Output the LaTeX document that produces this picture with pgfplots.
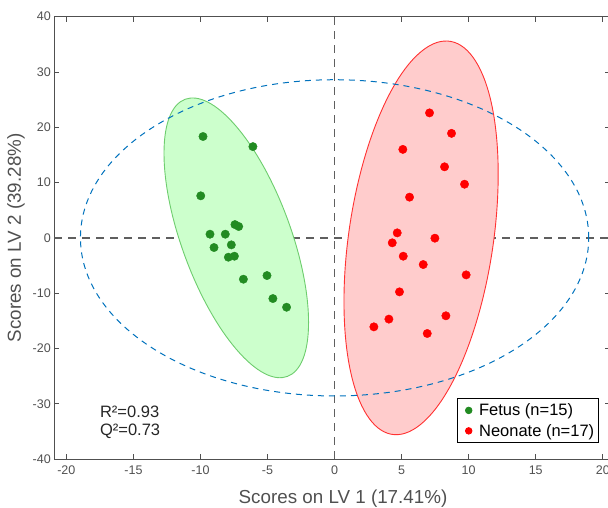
\documentclass[border=0pt]{standalone}
\usepackage{pgfplots}
\pgfplotsset{compat=1.18}
\usepackage{pgfplotstable}
\usepackage{fontspec}
\setmainfont{Liberation Sans}

\definecolor{fetus}{RGB}{34,139,34}
\definecolor{fetusfill}{RGB}{204,255,204}
\definecolor{fetusedge}{RGB}{110,205,110}
\definecolor{neofill}{RGB}{255,204,204}
\definecolor{neoedge}{RGB}{255,50,50}
\definecolor{t2blue}{RGB}{0,114,189}
\definecolor{zeroline}{RGB}{95,95,95}
\definecolor{axgray}{RGB}{80,80,80}

% LV1 / LV2 scores
\pgfplotstableread{
x y
-9.81 18.33
-6.09 16.50
-9.98 7.60
-7.43 2.40
-7.15 2.05
-9.29 0.66
-8.15 0.66
-8.99 -1.75
-7.70 -1.27
-7.92 -3.50
-7.47 -3.32
-6.80 -7.48
-5.04 -6.82
-4.60 -10.98
-3.58 -12.55
}\fetusdata

\pgfplotstableread{
x y
7.08 22.60
8.72 18.90
5.09 16.00
8.20 12.85
9.69 9.70
5.59 7.36
4.67 0.90
7.48 -0.06
4.30 -0.90
5.12 -3.32
6.61 -4.83
9.81 -6.70
4.84 -9.77
4.05 -14.70
8.30 -14.10
2.93 -16.10
6.91 -17.30
}\neodata

\begin{document}
\begin{tikzpicture}
\begin{axis}[
    scale only axis,
    width=555.2pt, height=442.3pt,
    xmin=-20.9, xmax=20.5,
    ymin=-40, ymax=40,
    xtick={-20,-15,...,20},
    ytick={-40,-30,...,40},
    tick align=inside,
    major tick length=5pt,
    axis line style={axgray, line width=0.9pt},
    every tick/.style={axgray, line width=0.9pt},
    ticklabel style={font=\fontsize{12.5}{14}\selectfont, text=axgray},
    xticklabel shift=3.5pt,
    yticklabel shift=0pt,
    /pgf/number format/assume math mode=true,
    xlabel={Scores on LV 1 (17.41\%)},
    ylabel={Scores on LV 2 (39.28\%)},
    label style={font=\fontsize{18.8}{21}\selectfont, text=axgray},
    x label style={at={(axis description cs:0.52,0)}, anchor=center, yshift=-40pt},
    y label style={at={(axis description cs:-0.069,0.5)}, anchor=center},
    legend style={at={(axis cs:19.69,-29.02)}, anchor=north east,
        draw=black, line width=0.8pt, fill=white,
        font=\fontsize{16.5}{19}\selectfont, inner xsep=1pt, inner ysep=2pt,
        row sep=1pt, nodes={inner sep=3pt}},
    legend image code/.code={
        \path (0pt,0pt) (17pt,0pt);
        \draw[#1, mark size=3.3pt] plot coordinates {(10pt,0pt)};
    },
    legend cell align=left,
]
% zero lines
\draw[zeroline, dash pattern=on 8pt off 6pt, line width=1.4pt] (axis cs:0,-40) -- (axis cs:0,40);
\draw[zeroline, dash pattern=on 8pt off 6pt, line width=1.4pt] (axis cs:-20.9,0) -- (axis cs:20.5,0);

% confidence ellipses (centre + two conjugate semi-axes)
\pgfplotsextra{
    \pgfsetfillcolor{fetusfill}\pgfsetstrokecolor{fetusedge}\pgfsetlinewidth{0.9pt}
    \pgfpathellipse{\pgfplotspointaxisxy{-7.33}{0}}{\pgfplotspointaxisdirectionxy{5.39}{-15.3}}{\pgfplotspointaxisdirectionxy{0}{20.15}}
    \pgfusepath{fill,stroke}
    \pgfsetfillcolor{neofill}\pgfsetstrokecolor{neoedge}
    \pgfpathellipse{\pgfplotspointaxisxy{6.45}{0}}{\pgfplotspointaxisdirectionxy{5.75}{11.52}}{\pgfplotspointaxisdirectionxy{0}{33.68}}
    \pgfusepath{fill,stroke}
}

% Hotelling T2 limit
\draw[t2blue, dash pattern=on 6pt off 5pt, line width=1pt] (axis cs:0,0) ellipse [x radius=18.95, y radius=28.6];

\addplot[only marks, mark=*, mark size=4.2pt, mark options={fill=fetus, draw=fetus}] table {\fetusdata};
\addlegendentry{Fetus (n=15)}
\addplot[only marks, mark=*, mark size=4.2pt, mark options={fill=red, draw=red}] table {\neodata};
\addlegendentry{Neonate (n=17)}

\node[anchor=west, inner sep=0pt, font=\fontsize{16.5}{19}\selectfont, text=black!85] at (axis cs:-17.52,-31.44) {R²=0.93};
\node[anchor=west, inner sep=0pt, font=\fontsize{16.5}{19}\selectfont, text=black!85] at (axis cs:-17.52,-35.06) {Q²=0.73};
\end{axis}
\pgfresetboundingbox
\path[use as bounding box] (-54.3pt,-49pt) rectangle (553.7pt,459pt);
\end{tikzpicture}
\end{document}
